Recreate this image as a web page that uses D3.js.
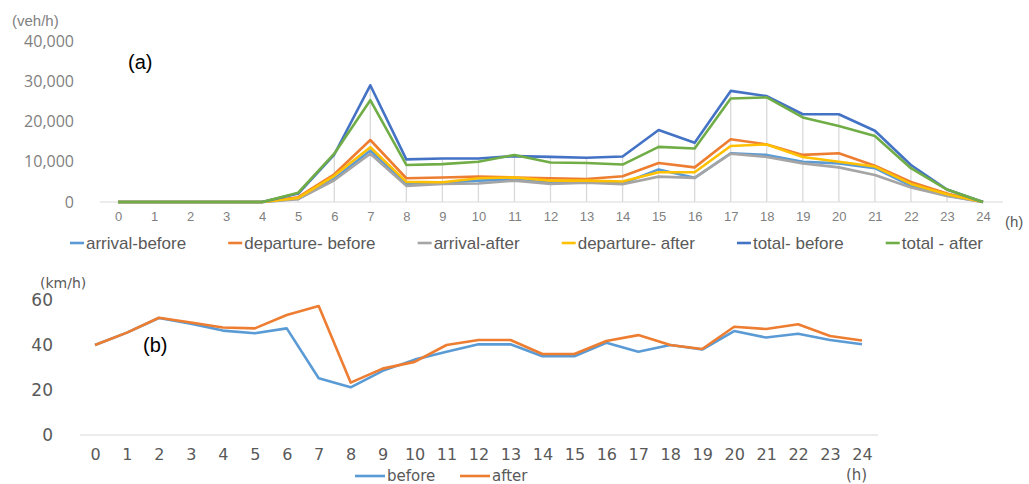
<!DOCTYPE html>
<html>
<head>
<meta charset="utf-8">
<script src="https://cdn.jsdelivr.net/npm/d3@7"></script>
<style>
  body { margin: 0; background: #fff; }
  svg { display: block; font-family: "Liberation Sans", Arial, sans-serif; }
</style>
</head>
<body>
<div id="chart"></div>
<script>
// hours on the x axis of both panels
var hours = [0,1,2,3,4,5,6,7,8,9,10,11,12,13,14,15,16,17,18,19,20,21,22,23,24];
var volumeTicks = [0, 10000, 20000, 30000, 40000];
var speedTicks = [0, 20, 40, 60];

// (a) traffic volume, veh/h
var arrivalBefore   = [0,0,0,0,0, 800, 5800,12800, 4500, 4800, 5300, 5600, 4800, 5000, 4600, 8100, 6000,12100,11700,10000, 9600, 8400,4000,1600,0];
var departureBefore = [0,0,0,0,0,1200, 6900,15400, 5900, 6100, 6300, 6100, 5900, 5700, 6400, 9700, 8600,15600,14300,11700,12100, 9000,5000,2100,0];
var arrivalAfter    = [0,0,0,0,0, 700, 5400,12000, 4000, 4500, 4600, 5300, 4500, 4800, 4400, 6300, 6000,12000,11200, 9600, 8600, 6700,3600,1500,0];
var departureAfter  = [0,0,0,0,0,1000, 6500,13600, 5000, 4900, 5900, 6100, 5300, 5300, 5100, 7400, 7400,13900,14300,11200,10000, 8800,4500,1900,0];
var totalBefore     = [0,0,0,0,0,2100,11800,29000,10600,10800,10800,11400,11200,11000,11300,17900,14700,27600,26300,21800,21800,17700,9200,3100,0];
var totalAfter      = [0,0,0,0,0,2300,12000,25300, 9200, 9400,10000,11700, 9800, 9700, 9300,13700,13300,25700,26000,21000,18900,16400,8400,3100,0];
var volumeNames  = ["arrival-before", "departure- before", "arrival-after", "departure- after", "total- before", "total - after"];
var volumeColors = ["#5b9bd5", "#ed7d31", "#a5a5a5", "#ffc000", "#4472c4", "#70ad47"];

// (b) speed, km/h
var speedBefore = [40,45.5,52,49.5,46.4,45.2,47.4,25.2,21.2,28.5,33.5,37,40.3,40.3,35,35,41,37,40,38,46.2,43.3,45,42.2,40.3];
var speedAfter  = [40,45.5,52.1,50,47.8,47.4,53.3,57.3,23.3,29.5,32.5,40,42.2,42.2,36,36,41.8,44.4,40,38.2,48.1,47.1,49.2,44,42];
var speedNames  = ["before", "after"];
var speedColors = ["#5b9bd5", "#ed7d31"];

var svg = d3.select("#chart").append("svg")
    .attr("width", 1029)
    .attr("height", 484);

// ---------- panel (a) ----------
var volumeSeries = [arrivalBefore, departureBefore, arrivalAfter, departureAfter, totalBefore, totalAfter];
var xa = d3.scaleLinear().domain([0, 24]).range([118, 983]);
var ya = d3.scaleLinear().domain([0, 40000]).range([202, 41]);

var gA = svg.append("g");

// drop lines from the highest value down to the axis
gA.append("g").selectAll("line")
    .data(hours)
    .enter().append("line")
    .attr("x1", function (h) { return xa(h); })
    .attr("x2", function (h) { return xa(h); })
    .attr("y1", function (h, i) { return ya(d3.max(volumeSeries, function (s) { return s[i]; })); })
    .attr("y2", ya(0))
    .attr("stroke", "#d9d9d9")
    .attr("stroke-width", 1.3);

gA.append("line")
    .attr("x1", 100).attr("x2", 1003)
    .attr("y1", ya(0)).attr("y2", ya(0))
    .attr("stroke", "#d9d9d9");

var lineA = d3.line()
    .x(function (d, i) { return xa(hours[i]); })
    .y(function (d) { return ya(d); });

gA.append("g").selectAll("path")
    .data(volumeSeries)
    .enter().append("path")
    .attr("d", lineA)
    .attr("fill", "none")
    .attr("stroke", function (d, i) { return volumeColors[i]; })
    .attr("stroke-width", 2.6)
    .attr("stroke-linejoin", "round");

var yAxisA = gA.append("g")
    .attr("transform", "translate(74,0)")
    .call(d3.axisLeft(ya).tickValues(volumeTicks).tickFormat(d3.format(",")).tickSize(0).tickPadding(0));
yAxisA.select(".domain").remove();
yAxisA.selectAll("text").attr("font-size", 16).attr("fill", "#7f7f7f").attr("font-family", "Open Sans, sans-serif");

var xAxisA = gA.append("g")
    .attr("transform", "translate(0," + ya(0) + ")")
    .call(d3.axisBottom(xa).tickValues(hours).tickFormat(d3.format("d")).tickSize(0).tickPadding(10));
xAxisA.select(".domain").remove();
xAxisA.selectAll("text").attr("font-size", 13).attr("fill", "#7f7f7f");

gA.append("text").attr("x", 1005).attr("y", 227).attr("font-size", 15).attr("fill", "#595959").text("(h)");
gA.append("text").attr("x", 12).attr("y", 26).attr("font-size", 15).attr("fill", "#7f7f7f").text("(veh/h)");
gA.append("text").attr("x", 128).attr("y", 69).attr("font-size", 20).attr("fill", "#000").text("(a)");

// legend spread between x=70 and x=983
var legA = gA.append("g");
var itemsA = legA.selectAll("g")
    .data(volumeNames)
    .enter().append("g");
itemsA.append("line")
    .attr("x1", 0).attr("x2", 14)
    .attr("y1", 243).attr("y2", 243)
    .attr("stroke", function (d, i) { return volumeColors[i]; })
    .attr("stroke-width", 2.6);
itemsA.append("text")
    .attr("x", 16).attr("y", 249)
    .attr("font-size", 17)
    .attr("fill", "#595959")
    .text(function (d) { return d; });
var widths = [];
itemsA.each(function () { widths.push(16 + d3.select(this).select("text").node().getComputedTextLength()); });
var gap = (983 - 70 - d3.sum(widths)) / (widths.length - 1);
var pos = 70;
itemsA.attr("transform", function (d, i) {
    var t = "translate(" + pos + ",0)";
    pos += widths[i] + gap;
    return t;
});

// ---------- panel (b) ----------
var speedSeries = [speedBefore, speedAfter];
var xb = d3.scaleLinear().domain([0, 24]).range([95, 862]);
var yb = d3.scaleLinear().domain([0, 60]).range([435, 300]);

var gB = svg.append("g");

gB.append("line")
    .attr("x1", 80).attr("x2", 878)
    .attr("y1", yb(0)).attr("y2", yb(0))
    .attr("stroke", "#d9d9d9");

var lineB = d3.line()
    .x(function (d, i) { return xb(hours[i]); })
    .y(function (d) { return yb(d); });

gB.append("g").selectAll("path")
    .data(speedSeries)
    .enter().append("path")
    .attr("d", lineB)
    .attr("fill", "none")
    .attr("stroke", function (d, i) { return speedColors[i]; })
    .attr("stroke-width", 2.6)
    .attr("stroke-linejoin", "round");

var yAxisB = gB.append("g")
    .attr("transform", "translate(53,0)")
    .call(d3.axisLeft(yb).tickValues(speedTicks).tickSize(0).tickPadding(0));
yAxisB.select(".domain").remove();
yAxisB.selectAll("text").attr("font-size", 17).attr("fill", "#595959").attr("font-family", "DejaVu Sans, sans-serif");

var xAxisB = gB.append("g")
    .attr("transform", "translate(0," + yb(0) + ")")
    .call(d3.axisBottom(xb).tickValues(hours).tickFormat(d3.format("d")).tickSize(0).tickPadding(14));
xAxisB.select(".domain").remove();
xAxisB.selectAll("text").attr("font-size", 16).attr("fill", "#595959").attr("font-family", "DejaVu Sans, sans-serif");

gB.append("text").attr("x", 40).attr("y", 288).attr("font-size", 14).attr("fill", "#595959")
    .attr("font-family", "DejaVu Sans, sans-serif").text("(km/h)");
gB.append("text").attr("x", 143).attr("y", 352).attr("font-size", 20).attr("fill", "#000").text("(b)");
gB.append("text").attr("x", 846).attr("y", 480).attr("font-size", 15).attr("fill", "#595959")
    .attr("font-family", "DejaVu Sans, sans-serif").text("(h)");

var legB = gB.append("g");
var itemsB = legB.selectAll("g")
    .data(speedNames)
    .enter().append("g")
    .attr("transform", function (d, i) { return "translate(" + (355 + i * 105) + ",0)"; });
itemsB.append("line")
    .attr("x1", 0).attr("x2", 30)
    .attr("y1", 476).attr("y2", 476)
    .attr("stroke", function (d, i) { return speedColors[i]; })
    .attr("stroke-width", 2.6);
itemsB.append("text")
    .attr("x", 32).attr("y", 481)
    .attr("font-size", 15)
    .attr("fill", "#595959")
    .attr("font-family", "DejaVu Sans, sans-serif")
    .text(function (d) { return d; });
</script>
</body>
</html>
